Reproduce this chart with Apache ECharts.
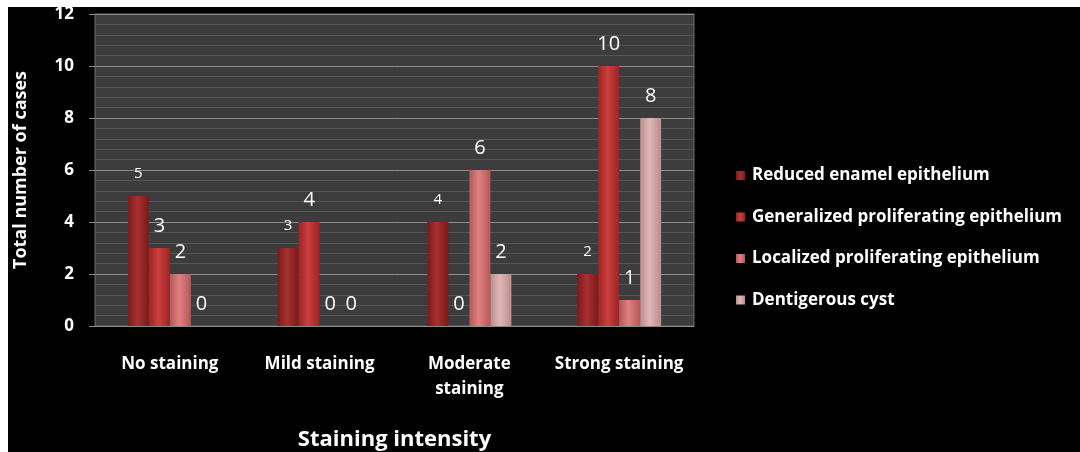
<!DOCTYPE html>
<html>
<head>
<meta charset="utf-8">
<script src="https://cdn.jsdelivr.net/npm/echarts@6/dist/echarts.min.js"></script>
<style>
html,body{margin:0;padding:0;background:#ffffff;width:1080px;height:452px;overflow:hidden;}
#chart{position:absolute;left:8px;top:7px;width:1072px;height:445px;}
</style>
</head>
<body>
<div id="chart"></div>
<script>
var categories = ['No staining', 'Mild staining', 'Moderate\nstaining', 'Strong staining'];
var seriesNames = ['Reduced enamel epithelium', 'Generalized proliferating epithelium', 'Localized proliferating epithelium', 'Dentigerous cyst'];
var reducedEnamel = [5, 3, 4, 2];
var generalizedProliferating = [3, 4, 0, 10];
var localizedProliferating = [2, 0, 6, 1];
var dentigerousCyst = [0, 0, 2, 8];
var yTicks = [0, 2, 4, 6, 8, 10, 12];

var FONT = '"Open Sans", "Noto Sans", sans-serif';

function grad(edge, mid) {
  return new echarts.graphic.LinearGradient(0, 0, 1, 0, [
    {offset: 0, color: edge},
    {offset: 0.45, color: mid},
    {offset: 1, color: edge}
  ]);
}

var colors = [
  grad('#7a1a1a', '#a83030'),
  grad('#9c2424', '#cc3e3e'),
  grad('#b45858', '#e08080'),
  grad('#b88e8e', '#e2b6b6')
];
var seriesData = [reducedEnamel, generalizedProliferating, localizedProliferating, dentigerousCyst];

var series = seriesData.map(function (d, i) {
  return {
    name: seriesNames[i],
    type: 'bar',
    data: d,
    barWidth: 21,
    barGap: '0%',
    itemStyle: {color: colors[i]},
    label: {
      show: true,
      position: 'top',
      distance: i === 0 ? 15 : 12,
      color: '#ffffff',
      fontFamily: FONT,
      fontSize: i === 0 ? 15 : 20
    }
  };
});

var chart = echarts.init(document.getElementById('chart'));
chart.setOption({
  backgroundColor: '#000000',
  animation: false,
  textStyle: {fontFamily: FONT},
  grid: {
    left: 87, top: 7, right: 386, bottom: 126,
    outerBoundsMode: 'none',
    containLabel: false,
    show: true,
    backgroundColor: '#3c3c3c',
    borderColor: '#6e6e6e',
    borderWidth: 1
  },
  legend: {
    orient: 'vertical',
    left: 723,
    top: 155,
    itemWidth: 9,
    itemHeight: 9,
    itemGap: 24.5,
    icon: 'rect',
    textStyle: {color: '#ffffff', fontSize: 17, fontWeight: 'bold', fontFamily: FONT, padding: [0, 0, 0, 2]},
    data: seriesNames
  },
  xAxis: {
    type: 'category',
    data: categories,
    name: 'Staining intensity',
    nameLocation: 'middle',
    nameGap: 103,
    nameTextStyle: {color: '#ffffff', fontSize: 22, fontWeight: 'bold', fontFamily: FONT},
    axisLine: {show: true, lineStyle: {color: '#8a8a8a', width: 1}},
    axisTick: {show: false},
    axisLabel: {color: '#ffffff', fontSize: 17, fontWeight: 'bold', fontFamily: FONT, margin: 26, lineHeight: 25, interval: 0}
  },
  yAxis: {
    type: 'value',
    min: 0,
    max: 12,
    interval: 2,
    name: 'Total number of cases',
    nameLocation: 'middle',
    nameGap: 65,
    nameTextStyle: {color: '#ffffff', fontSize: 18, fontWeight: 'bold', fontFamily: FONT},
    axisLine: {show: false},
    axisTick: {show: true, length: 6, lineStyle: {color: '#8a8a8a'}},
    axisLabel: {color: '#ffffff', fontSize: 17, fontWeight: 'bold', fontFamily: FONT, margin: 21,
      formatter: function (v) { return yTicks.indexOf(v) >= 0 ? String(v) : ''; }},
    splitLine: {show: true, lineStyle: {color: '#8c8c8c', width: 1}},
    minorTick: {show: false, splitNumber: 5},
    minorSplitLine: {show: true, lineStyle: {color: '#555555', width: 1}}
  },
  series: series
});
</script>
</body>
</html>
